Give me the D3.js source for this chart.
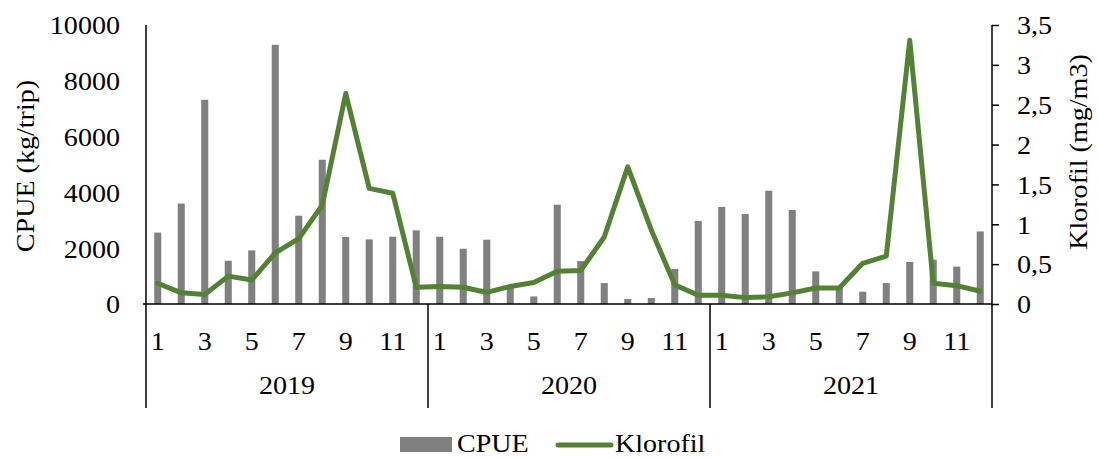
<!DOCTYPE html>
<html>
<head>
<meta charset="utf-8">
<script src="https://cdn.jsdelivr.net/npm/d3@7"></script>
<style>
  html, body { margin: 0; padding: 0; background: #fff; }
  svg text { font-family: "Liberation Serif", "Times New Roman", serif; fill: #000; }
</style>
</head>
<body>
<svg id="chart" width="1098" height="459"></svg>
<script>
const years = ["2019", "2020", "2021"];
const months = [1,2,3,4,5,6,7,8,9,10,11,12];
const cpue2019 = [2560, 3600, 7320, 1550, 1920, 9290, 3165, 5170, 2400, 2315, 2410, 2640];
const cpue2020 = [2410, 1980, 2305, 600, 270, 3560, 1540, 750, 180, 215, 1255, 2975];
const cpue2021 = [3480, 3225, 4060, 3370, 1170, 600, 440, 750, 1505, 1590, 1340, 2600];
const klor2019 = [0.26, 0.14, 0.12, 0.35, 0.30, 0.64, 0.82, 1.24, 2.64, 1.45, 1.39, 0.21];
const klor2020 = [0.22, 0.21, 0.145, 0.22, 0.27, 0.41, 0.42, 0.84, 1.72, 0.93, 0.24, 0.11];
const klor2021 = [0.11, 0.08, 0.09, 0.14, 0.20, 0.20, 0.51, 0.60, 3.31, 0.26, 0.23, 0.16];
const leftTicks = [0, 2000, 4000, 6000, 8000, 10000];
const rightTicks = [0, 0.5, 1, 1.5, 2, 2.5, 3, 3.5];
const monthLabels = [1, 3, 5, 7, 9, 11];

const cpue = [cpue2019, cpue2020, cpue2021];
const klor = [klor2019, klor2020, klor2021];
const rows = [];
years.forEach((y, yi) => months.forEach((m, mi) => {
  rows.push({ key: y + "-" + m, year: y, month: m, cpue: cpue[yi][mi], klor: klor[yi][mi] });
}));

const FS = 26, SX = 1.08;
const svg = d3.select("#chart");
const L = 146, R = 992, T = 25, B = 304, AXB = 408;
const x = d3.scaleBand().domain(rows.map(d => d.key)).range([L, R]).paddingInner(0.7).paddingOuter(0.35);
const yL = d3.scaleLinear().domain([0, 10000]).range([B, T]);
const yR = d3.scaleLinear().domain([0, 3.5]).range([B, T]);
const xYear = d3.scaleBand().domain(years).range([L, R]);

function stretch(sel, tx, ty, rot) {
  sel.attr("x", 0).attr("y", 0).attr("font-size", FS)
    .attr("transform", (d, i, n) => {
      const X = typeof tx === "function" ? tx(d, i, n) : tx;
      const Y = typeof ty === "function" ? ty(d, i, n) : ty;
      return `translate(${X},${Y})` + (rot ? ` rotate(${rot})` : "") + ` scale(${SX},1)`;
    });
}

// bars
svg.append("g").selectAll("rect").data(rows).join("rect")
  .attr("x", d => x(d.key))
  .attr("y", d => yL(d.cpue))
  .attr("width", x.bandwidth())
  .attr("height", d => B - yL(d.cpue))
  .attr("fill", "#808080");

// left axis
const gL = svg.append("g").attr("transform", `translate(${L},0)`)
  .call(d3.axisLeft(yL).tickValues(leftTicks).tickSize(0).tickPadding(26).tickFormat(d3.format("d")));
gL.select(".domain").remove();
stretch(gL.selectAll("text").attr("dy", "0.34em"), -26, 0);
svg.append("line").attr("x1", L).attr("x2", L).attr("y1", T).attr("y2", AXB).attr("stroke", "#000").attr("stroke-width", 1.5);

// right axis
const gR = svg.append("g").attr("transform", `translate(${R},0)`)
  .call(d3.axisRight(yR).tickValues(rightTicks).tickSize(7).tickPadding(18).tickFormat(d => String(d).replace(".", ",")));
gR.select(".domain").remove();
gR.selectAll(".tick line").attr("stroke", "#000").attr("stroke-width", 1.5);
stretch(gR.selectAll("text").attr("dy", "0.34em"), 25, 0);
svg.append("line").attr("x1", R).attr("x2", R).attr("y1", T).attr("y2", AXB).attr("stroke", "#000").attr("stroke-width", 1.5);

// x axis line
svg.append("line").attr("x1", L - 3).attr("x2", R).attr("y1", B).attr("y2", B).attr("stroke", "#000").attr("stroke-width", 1.5);

// year separators
svg.append("g").selectAll("line").data(years.slice(1)).join("line")
  .attr("x1", d => xYear(d)).attr("x2", d => xYear(d))
  .attr("y1", B).attr("y2", AXB).attr("stroke", "#000").attr("stroke-width", 1.5);

// month labels
stretch(svg.append("g").selectAll("text")
  .data(rows.filter(d => monthLabels.includes(d.month)))
  .join("text")
  .attr("dy", "0.34em").attr("text-anchor", "middle")
  .text(d => d.month), d => x(d.key) + x.bandwidth() / 2, 341);

// year labels
stretch(svg.append("g").selectAll("text").data(years).join("text")
  .attr("dy", "0.34em").attr("text-anchor", "middle")
  .text(d => d), d => xYear(d) + xYear.bandwidth() / 2, 385);

// line
svg.append("path").datum(rows)
  .attr("fill", "none").attr("stroke", "#548235").attr("stroke-width", 5)
  .attr("stroke-linejoin", "round").attr("stroke-linecap", "round")
  .attr("d", d3.line().x(d => x(d.key) + x.bandwidth() / 2).y(d => yR(d.klor)));

// axis titles
stretch(svg.append("text").attr("text-anchor", "middle").text("CPUE (kg/trip)"), 34, 166, -90);
stretch(svg.append("text").attr("text-anchor", "middle").text("Klorofil (mg/m3)"), 1087, 152, -90);

// legend
const lg = svg.append("g");
lg.append("rect").attr("x", 400).attr("y", 437).attr("width", 52).attr("height", 15).attr("fill", "#808080");
stretch(lg.append("text").attr("dy", "0.34em").text("CPUE"), 457, 443.5);
lg.append("line").attr("x1", 558).attr("x2", 611).attr("y1", 445).attr("y2", 445)
  .attr("stroke", "#548235").attr("stroke-width", 5).attr("stroke-linecap", "round");
stretch(lg.append("text").attr("dy", "0.34em").text("Klorofil"), 615, 443.5);
</script>
</body>
</html>
